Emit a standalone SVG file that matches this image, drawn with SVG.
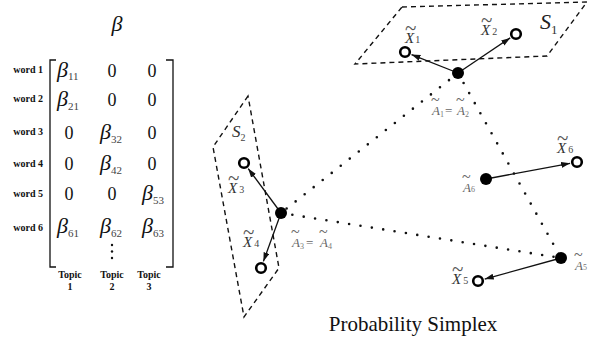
<svg xmlns="http://www.w3.org/2000/svg" width="590" height="342" viewBox="0 0 590 342" font-family="'Liberation Serif', 'Times New Roman', 'DejaVu Serif', serif">
<style>
text, tspan { font-family: 'Liberation Serif', 'Times New Roman', 'DejaVu Serif', serif; }
.w{font-size:10px;font-weight:bold;text-anchor:end;fill:#111}
.tp{font-size:10px;font-weight:bold;text-anchor:middle;fill:#111}
.z{font-size:18px;text-anchor:middle;fill:#111}
.b{font-size:22px;font-style:italic;fill:#111}
.bs{font-size:11px;font-style:normal;fill:#444}
.xl{font-size:15px;font-style:italic;fill:#333}
.xs{font-size:10px;font-style:normal;fill:#444}
.al{font-size:13px;font-style:italic;fill:#666}
.as{font-size:8px;font-style:normal;fill:#777}
.eq{font-style:normal}
.tx{font-size:21px;font-style:normal;fill:#555}
.ta{font-size:16px;font-style:normal;fill:#666}
.dash{fill:none;stroke:#111;stroke-width:1.4;stroke-dasharray:5 4}
.dot{fill:none;stroke:#111;stroke-width:2.6;stroke-linecap:round;stroke-dasharray:0 11.5}
.arr{stroke:#111;stroke-width:1.3;fill:none;marker-end:url(#ah)}
.open{fill:#fff;stroke:#000;stroke-width:2.6}
.fill{fill:#000}
.br{fill:none;stroke:#111;stroke-width:1.3}
</style>
<defs>
<marker id="ah" markerUnits="userSpaceOnUse" markerWidth="10" markerHeight="8" refX="9" refY="3" orient="auto">
<path d="M0,0 L9,3 L0,6 Z" fill="#111"/>
</marker>
</defs>

<g id="matrix">
<text x="117" y="31" class="b" text-anchor="middle" font-size="20">β</text>
<path class="br" d="M56,60 H50 V267 H56"/>
<path class="br" d="M166,60 H173 V267 H166"/>
<text class="w" x="43" y="73">word 1</text>
<text class="w" x="43" y="102">word 2</text>
<text class="w" x="43" y="135">word 3</text>
<text class="w" x="43" y="167">word 4</text>
<text class="w" x="43" y="197">word 5</text>
<text class="w" x="43" y="231">word 6</text>
<text class="b" x="57" y="77">β<tspan class="bs" dy="3">11</tspan></text>
<text class="z" x="112" y="77">0</text><text class="z" x="152" y="77">0</text>
<text class="b" x="57" y="106">β<tspan class="bs" dy="4">21</tspan></text>
<text class="z" x="112" y="106">0</text><text class="z" x="152" y="106">0</text>
<text class="z" x="69" y="139">0</text>
<text class="b" x="100" y="139">β<tspan class="bs" dy="4">32</tspan></text>
<text class="z" x="152" y="139">0</text>
<text class="z" x="69" y="170">0</text>
<text class="b" x="100" y="170">β<tspan class="bs" dy="4">42</tspan></text>
<text class="z" x="152" y="170">0</text>
<text class="z" x="69" y="200">0</text><text class="z" x="112" y="200">0</text>
<text class="b" x="142" y="200">β<tspan class="bs" dy="4">53</tspan></text>
<text class="b" x="57" y="233">β<tspan class="bs" dy="4">61</tspan></text>
<text class="b" x="100" y="233">β<tspan class="bs" dy="4">62</tspan></text>
<text class="b" x="142" y="233">β<tspan class="bs" dy="4">63</tspan></text>
<circle cx="112" cy="245" r="1.2" fill="#111"/>
<circle cx="112" cy="251.5" r="1.2" fill="#111"/>
<circle cx="112" cy="258" r="1.2" fill="#111"/>
<text class="tp" x="70" y="278">Topic</text><text class="tp" x="70" y="290">1</text>
<text class="tp" x="112" y="278">Topic</text><text class="tp" x="112" y="290">2</text>
<text class="tp" x="149" y="278">Topic</text><text class="tp" x="149" y="290">3</text>
</g>

<g id="S1">
<path class="dash" d="M402,7 L587,2 L547,56 L355,64 Z"/>
<text x="540" y="29" font-size="22" font-style="italic" fill="#222">S<tspan font-size="13" font-style="normal" fill="#333" dy="5">1</tspan></text>
</g>

<g id="S2">
<path class="dash" d="M248,96 L213,147 L244,317 L279,268 Z"/>
<text x="232" y="137" font-size="17" font-style="italic" fill="#333">S<tspan font-size="10" font-style="normal" fill="#444" dy="4">2</tspan></text>
</g>

<g id="connectors">
<line class="dot" x1="458" y1="73" x2="281" y2="213"/>
<line class="dot" x1="458" y1="73" x2="561" y2="258"/>
<line class="dot" x1="281" y1="213" x2="561" y2="258"/>
<line class="arr" x1="458" y1="73" x2="411.5" y2="54.6"/>
<line class="arr" x1="458" y1="73" x2="510.2" y2="37.9"/>
<line class="arr" x1="281" y1="213" x2="248.2" y2="168.6"/>
<line class="arr" x1="281" y1="213" x2="263.4" y2="261.4"/>
<line class="arr" x1="486" y1="179" x2="570.1" y2="163.3"/>
<line class="arr" x1="561" y1="258" x2="484.7" y2="279.1"/>
</g>

<g id="A12">
<circle class="fill" cx="458" cy="73" r="6"/>
<text class="al"><tspan class="ta" x="431" y="105">~</tspan><tspan x="432" y="115">A</tspan><tspan class="as" dy="2">1</tspan><tspan class="eq" x="445" y="115">=</tspan><tspan class="ta" x="456" y="105">~</tspan><tspan x="457" y="115">A</tspan><tspan class="as" dy="2">2</tspan></text>
</g>
<g id="X1">
<circle class="open" cx="405" cy="52" r="4.8"/>
<text class="xl"><tspan class="tx" x="405" y="35">~</tspan><tspan x="405" y="43">X</tspan><tspan class="xs" dx="1">1</tspan></text>
</g>
<g id="X2">
<circle class="open" cx="516" cy="34" r="4.8"/>
<text class="xl"><tspan class="tx" x="481" y="27">~</tspan><tspan x="481" y="35">X</tspan><tspan class="xs" dx="2">2</tspan></text>
</g>

<g id="A34">
<circle class="fill" cx="281" cy="213" r="6"/>
<text class="al"><tspan class="ta" x="291" y="237">~</tspan><tspan x="292" y="247">A</tspan><tspan class="as" dy="2">3</tspan><tspan class="eq" x="306" y="247">=</tspan><tspan class="ta" x="319" y="237">~</tspan><tspan x="320" y="247">A</tspan><tspan class="as" dy="2">4</tspan></text>
</g>
<g id="X3">
<circle class="open" cx="244" cy="163" r="4.8"/>
<text class="xl"><tspan class="tx" x="228" y="185">~</tspan><tspan x="228" y="193">X</tspan><tspan class="xs" dx="2">3</tspan></text>
</g>
<g id="X4">
<circle class="open" cx="261" cy="268" r="4.8"/>
<text class="xl"><tspan class="tx" x="243" y="239">~</tspan><tspan x="243" y="247">X</tspan><tspan class="xs" dx="2">4</tspan></text>
</g>

<g id="A6">
<circle class="fill" cx="486" cy="179" r="6"/>
<text class="al"><tspan class="ta" x="462" y="182">~</tspan><tspan x="463" y="192">A</tspan><tspan class="as">6</tspan></text>
</g>
<g id="X6">
<circle class="open" cx="577" cy="162" r="4.8"/>
<text class="xl"><tspan class="tx" x="557" y="145">~</tspan><tspan x="557" y="153">X</tspan><tspan class="xs" dx="2">6</tspan></text>
</g>

<g id="A5">
<circle class="fill" cx="561" cy="258" r="6"/>
<text class="al"><tspan class="ta" x="574" y="260">~</tspan><tspan x="575" y="270">A</tspan><tspan class="as">5</tspan></text>
</g>
<g id="X5">
<circle class="open" cx="478" cy="281" r="4.8"/>
<text class="xl"><tspan class="tx" x="452" y="276">~</tspan><tspan x="452" y="284">X</tspan><tspan class="xs" dx="2">5</tspan></text>
</g>

<text x="413" y="331" font-size="21" text-anchor="middle" fill="#111">Probability Simplex</text>
</svg>
